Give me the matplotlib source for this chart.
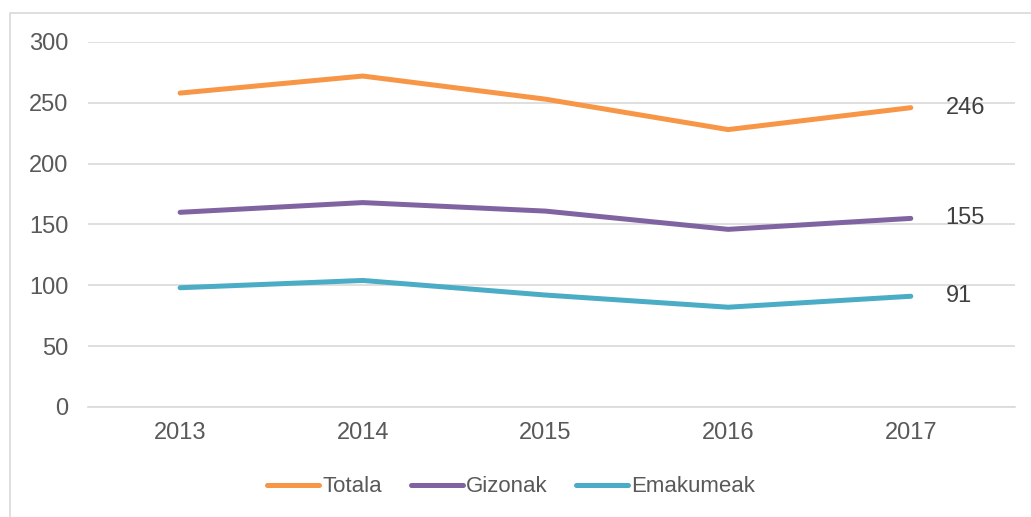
import numpy as np
import matplotlib.pyplot as plt
from matplotlib.patches import Rectangle

plt.rcParams['font.family'] = ['Liberation Sans', 'DejaVu Sans']

years = ['2013', '2014', '2015', '2016', '2017']
totala = [258, 272, 253, 228, 246]
gizonak = [160, 168, 161, 146, 155]
emakumeak = [98, 104, 92, 82, 91]

series = [('Totala', totala, '#F79646'),
          ('Gizonak', gizonak, '#8064A2'),
          ('Emakumeak', emakumeak, '#4BACC6')]

fig = plt.figure(figsize=(10.31, 5.17), dpi=100)
ax = fig.add_axes([0.0854, 0.2128, 0.899, 0.706])

# chart border
fig.patches.append(Rectangle((10 / 1031, -0.01), 1.0, 1 - 13 / 517 + 0.01,
                             transform=fig.transFigure, fill=False,
                             edgecolor='#D9D9D9', linewidth=1.2))

x = np.arange(len(years))
for name, vals, col in series:
    ax.plot(x, vals, color=col, linewidth=3.6, solid_capstyle='round', label=name)
    ax.annotate(str(vals[-1]), (x[-1], vals[-1]), xytext=(25, 0),
                textcoords='offset points', va='center', ha='left',
                fontsize=17, color='#404040')

ax.set_ylim(0, 300)
ax.set_yticks(np.arange(0, 301, 50))
ax.set_xlim(-0.504, 4.57)
ax.set_xticks(x)
ax.set_xticklabels(years)
ax.grid(axis='y', color='#D9D9D9', linewidth=1.2)
ax.set_axisbelow(True)
for s in ['top', 'right', 'left']:
    ax.spines[s].set_visible(False)
ax.spines['bottom'].set_color('#D9D9D9')
ax.spines['bottom'].set_linewidth(1.2)
ax.tick_params(axis='both', length=0, labelsize=17, labelcolor='#595959')
ax.tick_params(axis='y', pad=14)
ax.tick_params(axis='x', pad=11)

leg = fig.legend(loc='center', bbox_to_anchor=(511 / 1031, 1 - 487 / 517), ncol=3,
                 frameon=False, fontsize=16, handlelength=2.35, handletextpad=0.12,
                 columnspacing=1.3)
for t in leg.get_texts():
    t.set_color('#595959')

fig.savefig('out.png', dpi=100)
